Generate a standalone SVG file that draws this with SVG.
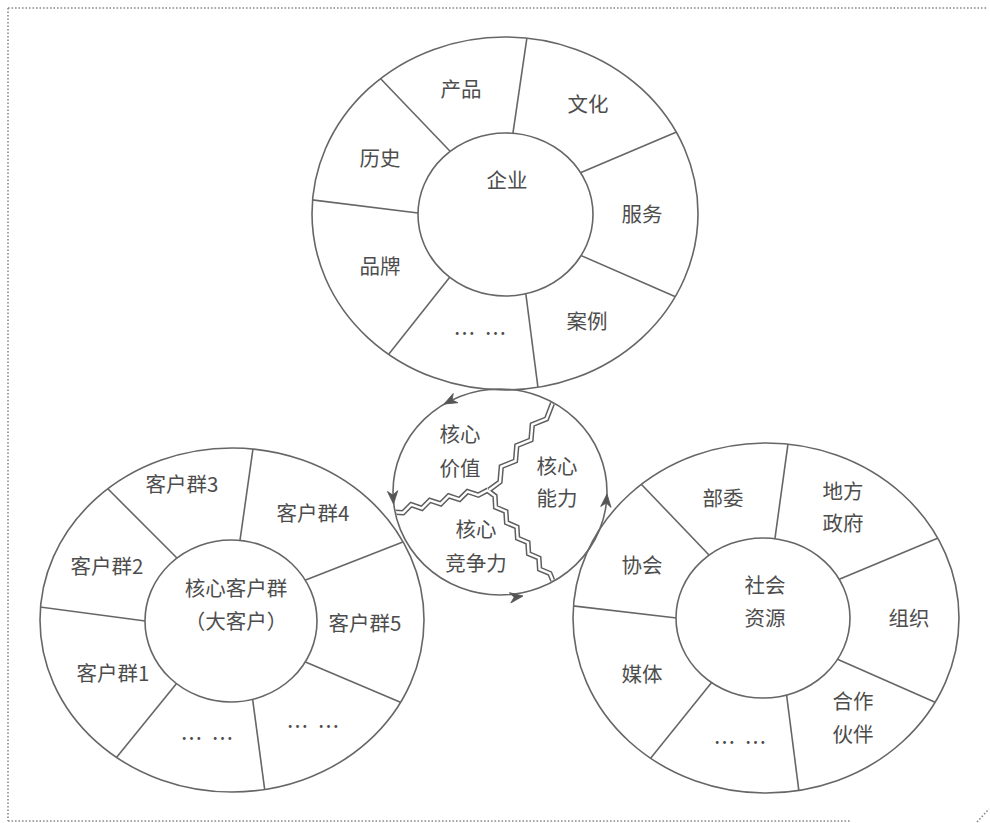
<svg xmlns="http://www.w3.org/2000/svg" width="990" height="823" viewBox="0 0 990 823">
<style>
.ln{fill:none;stroke:#666;stroke-width:1.6}
.inr{fill:#fff;stroke:#666;stroke-width:1.6}
.t{font-family:"Noto Sans CJK SC","Noto Sans",sans-serif;font-size:20.5px;fill:#4d4d4d;text-anchor:middle;dominant-baseline:central}
.el{font-family:"Noto Sans CJK SC","Noto Sans",sans-serif;font-size:22px;fill:#4d4d4d;text-anchor:middle;letter-spacing:2px}
.bd{fill:none;stroke:#8a8a8a;stroke-width:1.6;stroke-dasharray:1.6 1.9}
.zo{fill:none;stroke:#5e5e5e;stroke-width:5.4;stroke-linejoin:miter}
.zi{fill:none;stroke:#fff;stroke-width:2.4;stroke-linejoin:miter}
.ah{fill:#555;stroke:#555;stroke-width:0.8;stroke-linejoin:miter}
</style>
<defs>
<clipPath id="cTop"><ellipse cx="505" cy="213.5" rx="193" ry="176.5"/></clipPath>
<clipPath id="cBL"><ellipse cx="232" cy="620" rx="192" ry="172"/></clipPath>
<clipPath id="cBR"><ellipse cx="766" cy="618" rx="193" ry="175"/></clipPath>
<clipPath id="cCore"><ellipse cx="500" cy="492" rx="106" ry="102"/></clipPath>
<path id="arrow" d="M0,0 L-13,-5.2 L-9,0 L-13,5.2 Z"/>
</defs>
<rect width="990" height="823" fill="#fff"/>

<g id="border">
<path class="bd" d="M8,8 H988 M8,8 V821 M8,821 H850 M977,822 L989,809"/>
</g>

<g id="enterprise">
<ellipse class="ln" cx="505" cy="213.5" rx="193" ry="176.5"/>
<g clip-path="url(#cTop)" class="ln">
<line x1="512.1" y1="138.9" x2="527.9" y2="31.1"/>
<line x1="574.5" y1="175.3" x2="679.5" y2="130.7"/>
<line x1="576.5" y1="253.6" x2="679.5" y2="298.4"/>
<line x1="525.2" y1="289" x2="538.8" y2="394"/>
<line x1="449.7" y1="277.3" x2="388.3" y2="354.7"/>
<line x1="424" y1="213.7" x2="307" y2="199.3"/>
<line x1="450.1" y1="151.3" x2="374.9" y2="72.7"/>
</g>
<ellipse class="inr" cx="505.5" cy="214.5" rx="87.5" ry="81.5"/>
<text class="t" x="507" y="179">企业</text>
<text class="t" x="461" y="88">产品</text>
<text class="t" x="588" y="103">文化</text>
<text class="t" x="642" y="213">服务</text>
<text class="t" x="587" y="320">案例</text>
<text class="el" x="481" y="341">… …</text>
<text class="t" x="380" y="265">品牌</text>
<text class="t" x="380" y="157">历史</text>
</g>

<g id="core">
<g clip-path="url(#cCore)">
<polyline class="zo" points="489,490 500,481.9 501.3,466.6 515.5,460.9 516.8,445.6 531,439.9 532.3,424.6 546.5,418.9 553,402"/>
<polyline class="zo" points="488,490 478.3,495.1 467.5,491.5 459.5,499.5 448.7,495.9 440.7,503.9 429.9,500.3 421.9,508.3 411.1,504.7 403.1,512.7 390,512"/>
<polyline class="zo" points="487,490 495,496 495.6,507.2 505.9,511.5 506.6,522.7 516.9,527 517.6,538.2 527.9,542.5 528.6,553.7 538.9,558 539.6,569.2 549.9,573.5 555,586"/>
<polyline class="zi" points="489,490 500,481.9 501.3,466.6 515.5,460.9 516.8,445.6 531,439.9 532.3,424.6 546.5,418.9 553,402"/>
<polyline class="zi" points="488,490 478.3,495.1 467.5,491.5 459.5,499.5 448.7,495.9 440.7,503.9 429.9,500.3 421.9,508.3 411.1,504.7 403.1,512.7 390,512"/>
<polyline class="zi" points="487,490 495,496 495.6,507.2 505.9,511.5 506.6,522.7 516.9,527 517.6,538.2 527.9,542.5 528.6,553.7 538.9,558 539.6,569.2 549.9,573.5 555,586"/>
</g>
<ellipse class="ln" cx="500" cy="492" rx="107" ry="103"/>
<text class="t" x="460" y="433">核心</text>
<text class="t" x="460" y="467">价值</text>
<text class="t" x="557" y="465">核心</text>
<text class="t" x="557" y="497">能力</text>
<text class="t" x="476" y="528">核心</text>
<text class="t" x="476" y="562">竞争力</text>
</g>

<g id="customers">
<ellipse class="ln" cx="232" cy="620" rx="192" ry="172"/>
<g clip-path="url(#cBL)" class="ln">
<line x1="239.2" y1="545.9" x2="253.8" y2="443.1"/>
<line x1="302.4" y1="581.2" x2="408.6" y2="539.8"/>
<line x1="302.5" y1="660.7" x2="407.5" y2="705.3"/>
<line x1="252.2" y1="696.1" x2="265.8" y2="797.9"/>
<line x1="180.8" y1="678.3" x2="112.2" y2="762.7"/>
<line x1="150.9" y1="621.8" x2="34.1" y2="606.2"/>
<line x1="181.2" y1="562.2" x2="103.8" y2="484.8"/>
</g>
<ellipse class="inr" cx="231" cy="621" rx="86" ry="81"/>
<text class="t" x="236" y="587">核心客户群</text>
<text class="t" x="236" y="620">（大客户）</text>
<text class="t" x="182" y="483">客户群3</text>
<text class="t" x="313" y="512">客户群4</text>
<text class="t" x="365" y="622">客户群5</text>
<text class="el" x="314" y="734">… …</text>
<text class="el" x="208" y="746">… …</text>
<text class="t" x="113" y="672">客户群1</text>
<text class="t" x="107" y="565">客户群2</text>
</g>

<g id="social">
<ellipse class="ln" cx="766" cy="618" rx="193" ry="175"/>
<g clip-path="url(#cBR)" class="ln">
<line x1="774.2" y1="543.9" x2="788.8" y2="438.1"/>
<line x1="834.5" y1="581.3" x2="943.5" y2="535.7"/>
<line x1="833.5" y1="657.6" x2="942.5" y2="705.4"/>
<line x1="786.2" y1="692" x2="799.8" y2="798"/>
<line x1="711.8" y1="682.3" x2="646.2" y2="763.7"/>
<line x1="683" y1="618.7" x2="568" y2="605.3"/>
<line x1="713.1" y1="559.3" x2="638.9" y2="481.7"/>
</g>
<ellipse class="inr" cx="763" cy="618" rx="87" ry="80"/>
<text class="t" x="765" y="584">社会</text>
<text class="t" x="765" y="617">资源</text>
<text class="t" x="723" y="497">部委</text>
<text class="t" x="843" y="490">地方</text>
<text class="t" x="843" y="522">政府</text>
<text class="t" x="909" y="617">组织</text>
<text class="t" x="853" y="700">合作</text>
<text class="t" x="853" y="733">伙伴</text>
<text class="el" x="741" y="750">… …</text>
<text class="t" x="642" y="673">媒体</text>
<text class="t" x="642" y="564">协会</text>
</g>

<g id="connectors">
<use href="#arrow" class="ah" transform="translate(444,404) rotate(153)"/>
<use href="#arrow" class="ah" transform="translate(393.5,504) rotate(86)"/>
<use href="#arrow" class="ah" transform="translate(523,596) rotate(-8)"/>
<use href="#arrow" class="ah" transform="translate(607,494) rotate(-85)"/>
</g>
</svg>
